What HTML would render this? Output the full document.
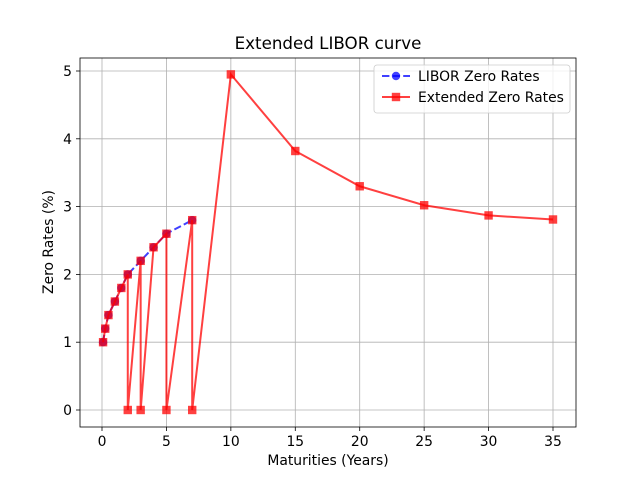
<!DOCTYPE html>
<html><head><meta charset="utf-8"><style>
body{margin:0;background:#fff;}
svg{font-family:"DejaVu Sans","Liberation Sans",sans-serif;}
</style></head><body>
<svg id="c" width="640" height="480" xmlns="http://www.w3.org/2000/svg"></svg>
<script>
const liborX=[0.083,0.25,0.5,1,1.5,2,3,4,5,7];
const liborY=[1.0,1.2,1.4,1.6,1.8,2.0,2.2,2.4,2.6,2.8];
const extX=[0.083,0.25,0.5,1,1.5,2,2,3,3,4,5,5,7,7,10,15,20,25,30,35];
const extY=[1.0,1.2,1.4,1.6,1.8,2.0,0,2.2,0,2.4,2.6,0,2.8,0,4.95,3.82,3.3,3.02,2.87,2.81];
const xTicks=[0,5,10,15,20,25,30,35];
const yTicks=[0,1,2,3,4,5];
const L=80,R=576,T=58,B=427;
const xs=v=>102+v*(553-102)/35;
const ys=v=>410-v*(410-71)/5;
const svg=document.getElementById('c');
const NS='http://www.w3.org/2000/svg';
function mk(tag,attrs,parent){const e=document.createElementNS(NS,tag);for(const k in attrs)e.setAttribute(k,attrs[k]);(parent||svg).appendChild(e);return e;}
let e;
xTicks.forEach(t=>{
 e=mk('line',{x1:xs(t),x2:xs(t),y1:T,y2:B,stroke:'#b0b0b0','stroke-width':0.8});
 
 
 e=mk('line',{x1:xs(t),x2:xs(t),y1:B,y2:B+4,stroke:'#000','stroke-width':0.8});
 
 
 e=mk('text',{x:xs(t),y:B+19,'text-anchor':'middle','font-size':13.9});e.textContent=t;
 
 
});
yTicks.forEach(t=>{
 e=mk('line',{x1:L-4,x2:L,y1:ys(t),y2:ys(t),stroke:'#000','stroke-width':0.8});
 
 
 e=mk('line',{x1:L,x2:R,y1:ys(t),y2:ys(t),stroke:'#b0b0b0','stroke-width':0.8});
 
 
 e=mk('text',{x:L-8,y:ys(t)+5,'text-anchor':'end','font-size':13.9});e.textContent=t;
 
 
});
e=mk('polyline',{points:liborX.map((x,i)=>xs(x)+','+ys(liborY[i])).join(' '),fill:'none',stroke:'rgba(0,0,255,0.75)','stroke-width':2,'stroke-dasharray':'7.4,3.2'});


liborX.forEach((x,i)=>{
 e=mk('circle',{cx:xs(x),cy:ys(liborY[i]),r:4.2,fill:'rgba(0,0,255,0.75)'});
 
 
});
e=mk('polyline',{points:extX.map((x,i)=>xs(x)+','+ys(extY[i])).join(' '),fill:'none',stroke:'rgba(255,0,0,0.75)','stroke-width':2});


extX.forEach((x,i)=>{
 e=mk('rect',{x:xs(x)-4.2,y:ys(extY[i])-4.2,width:8.4,height:8.4,fill:'rgba(255,0,0,0.75)'});
 
 
});
e=mk('rect',{x:L,y:T,width:R-L,height:B-T,fill:'none',stroke:'#000','stroke-width':0.8});


e=mk('text',{x:328,y:49,'text-anchor':'middle','font-size':16.7});e.textContent='Extended LIBOR curve';


e=mk('text',{x:328,y:465,'text-anchor':'middle','font-size':13.9});e.textContent='Maturities (Years)';


e=mk('text',{x:0,y:0,'text-anchor':'middle','font-size':13.9,transform:'translate(53,242) rotate(-90)'});e.textContent='Zero Rates (%)';


const g=mk('g',{});


mk('rect',{x:374,y:65,width:196,height:48,rx:3,fill:'rgba(255,255,255,0.8)',stroke:'#ccc','stroke-width':0.8},g);
mk('line',{x1:382,x2:410,y1:76,y2:76,stroke:'rgba(0,0,255,0.75)','stroke-width':2,'stroke-dasharray':'7.4,3.2'},g);
mk('circle',{cx:396,cy:76,r:4.2,fill:'rgba(0,0,255,0.75)'},g);
e=mk('text',{x:418,y:81,'font-size':13.9},g);e.textContent='LIBOR Zero Rates';


mk('line',{x1:382,x2:410,y1:97,y2:97,stroke:'rgba(255,0,0,0.75)','stroke-width':2},g);
mk('rect',{x:391.8,y:92.8,width:8.4,height:8.4,fill:'rgba(255,0,0,0.75)'},g);
e=mk('text',{x:418,y:102,'font-size':13.9},g);e.textContent='Extended Zero Rates';


</script>
</body></html>
